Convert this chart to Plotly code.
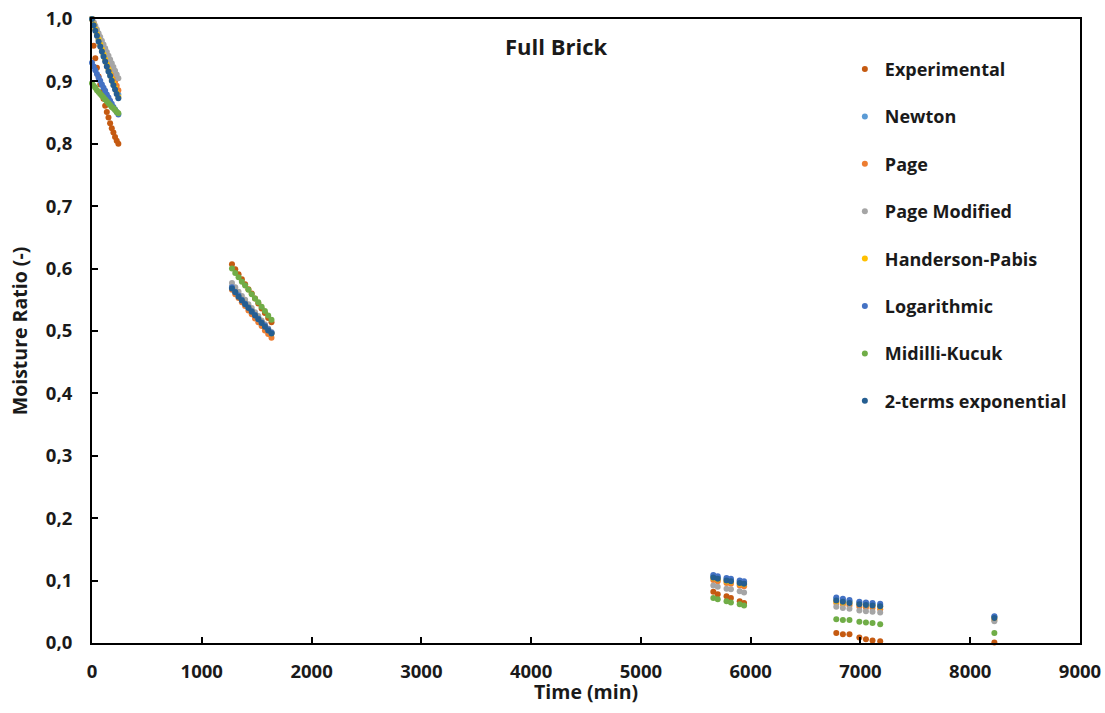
import plotly.graph_objects as go

# ---- data (time in minutes, moisture ratio) ----
time_min = [0, 15, 30, 45, 60, 75, 90, 105, 120, 135, 150, 165, 180, 195, 210, 225, 240,
            1275, 1305, 1335, 1365, 1395, 1425, 1455, 1485, 1515, 1545, 1575, 1605, 1635,
            5660, 5700, 5780, 5820, 5900, 5940,
            6780, 6840, 6900, 6990, 7050, 7110, 7180,
            8220]

experimental = [1.000, 0.957, 0.937, 0.922, 0.908, 0.895, 0.883, 0.872, 0.861, 0.851, 0.842, 0.833, 0.825, 0.818, 0.811, 0.805, 0.800,
                0.607, 0.599, 0.591, 0.583, 0.575, 0.567, 0.560, 0.552, 0.544, 0.536, 0.529, 0.521, 0.514,
                0.082, 0.078, 0.075, 0.072, 0.067, 0.064,
                0.016, 0.014, 0.014, 0.009, 0.006, 0.004, 0.003,
                0.001]
newton = [1.000, 0.992, 0.984, 0.976, 0.968, 0.960, 0.952, 0.944, 0.937, 0.929, 0.922, 0.914, 0.907, 0.900, 0.893, 0.886, 0.879,
          0.571, 0.564, 0.558, 0.551, 0.545, 0.539, 0.533, 0.527, 0.521, 0.515, 0.509, 0.503, 0.498,
          0.107, 0.105, 0.102, 0.101, 0.098, 0.097,
          0.071, 0.069, 0.067, 0.065, 0.064, 0.063, 0.061,
          0.042]
page = [1.000, 0.994, 0.987, 0.980, 0.973, 0.966, 0.958, 0.951, 0.944, 0.936, 0.929, 0.922, 0.915, 0.907, 0.900, 0.893, 0.886,
        0.566, 0.559, 0.553, 0.546, 0.540, 0.533, 0.527, 0.520, 0.514, 0.508, 0.501, 0.495, 0.489,
        0.101, 0.099, 0.096, 0.095, 0.092, 0.091,
        0.064, 0.062, 0.060, 0.058, 0.057, 0.056, 0.054,
        0.037]
page_modified = [1.000, 0.995, 0.989, 0.983, 0.977, 0.971, 0.965, 0.959, 0.953, 0.947, 0.941, 0.935, 0.929, 0.923, 0.917, 0.911, 0.905,
                 0.577, 0.570, 0.563, 0.556, 0.550, 0.543, 0.537, 0.530, 0.524, 0.517, 0.511, 0.504, 0.498,
                 0.092, 0.090, 0.087, 0.086, 0.083, 0.081,
                 0.058, 0.056, 0.055, 0.052, 0.051, 0.050, 0.049,
                 0.035]
handerson_pabis = [1.000, 0.991, 0.983, 0.975, 0.967, 0.959, 0.951, 0.943, 0.935, 0.927, 0.919, 0.912, 0.904, 0.897, 0.890, 0.882, 0.875,
                   0.569, 0.563, 0.556, 0.550, 0.544, 0.538, 0.532, 0.526, 0.520, 0.514, 0.508, 0.502, 0.496,
                   0.104, 0.102, 0.099, 0.098, 0.095, 0.094,
                   0.067, 0.065, 0.064, 0.062, 0.061, 0.060, 0.058,
                   0.040]
logarithmic = [0.930, 0.924, 0.918, 0.912, 0.906, 0.901, 0.895, 0.890, 0.885, 0.879, 0.874, 0.869, 0.864, 0.859, 0.855, 0.851, 0.847,
               0.570, 0.563, 0.557, 0.550, 0.544, 0.538, 0.532, 0.526, 0.520, 0.514, 0.509, 0.503, 0.497,
               0.109, 0.107, 0.104, 0.103, 0.100, 0.099,
               0.073, 0.071, 0.069, 0.066, 0.065, 0.064, 0.063,
               0.043]
midilli_kucuk = [0.897, 0.893, 0.890, 0.886, 0.883, 0.880, 0.877, 0.874, 0.871, 0.868, 0.865, 0.862, 0.859, 0.857, 0.854, 0.851, 0.849,
                 0.600, 0.593, 0.586, 0.579, 0.573, 0.566, 0.559, 0.552, 0.546, 0.539, 0.532, 0.525, 0.518,
                 0.072, 0.070, 0.067, 0.065, 0.062, 0.060,
                 0.038, 0.037, 0.037, 0.034, 0.033, 0.032, 0.030,
                 0.016]
two_terms = [1.000, 0.990, 0.981, 0.973, 0.964, 0.956, 0.948, 0.940, 0.932, 0.924, 0.916, 0.909, 0.901, 0.894, 0.887, 0.880, 0.873,
             0.568, 0.562, 0.555, 0.549, 0.543, 0.537, 0.531, 0.525, 0.519, 0.513, 0.507, 0.501, 0.496,
             0.105, 0.103, 0.100, 0.099, 0.096, 0.095,
             0.068, 0.066, 0.064, 0.062, 0.061, 0.060, 0.059,
             0.040]

series_names = ["Experimental", "Newton", "Page", "Page Modified", "Handerson-Pabis",
                "Logarithmic", "Midilli-Kucuk", "2-terms exponential"]
series_values = [experimental, newton, page, page_modified, handerson_pabis,
                 logarithmic, midilli_kucuk, two_terms]
series_colors = ["#C55A11", "#5B9BD5", "#ED7D31", "#A5A5A5", "#FFC000",
                 "#4472C4", "#70AD47", "#255E91"]

FONT = "Open Sans"
TXT = "#1a1a1a"

fig = go.Figure()
for i, (name, vals, col) in enumerate(zip(series_names, series_values, series_colors)):
    fig.add_trace(go.Scatter(
        x=time_min, y=vals, name=name, mode="markers",
        marker=dict(size=6, color=col),
        cliponaxis=False, legendgroup=f"g{i}",
    ))

fig.update_layout(
    width=1105, height=713,
    margin=dict(l=92, r=25, t=19, b=70, autoexpand=False),
    paper_bgcolor="white", plot_bgcolor="white",
    separators=", ",
    font=dict(family=FONT, size=18, color=TXT, weight="bold"),
    showlegend=True,
    legend=dict(x=0.762, y=0.949, xanchor="left", yanchor="top",
                font=dict(family=FONT, size=18, color=TXT, weight="bold"),
                tracegroupgap=21, bgcolor="rgba(0,0,0,0)", itemsizing="trace"),
    annotations=[
        dict(text="Full Brick", x=0.47, y=0.957, xref="paper", yref="paper",
             xanchor="center", yanchor="middle", showarrow=False,
             font=dict(family=FONT, size=22, color=TXT, weight="bold")),
        dict(text="Time (min)", x=0.5, y=-0.0785, xref="paper", yref="paper",
             xanchor="center", yanchor="middle", showarrow=False,
             font=dict(family=FONT, size=19.5, color=TXT, weight="bold")),
    ],
)
fig.update_xaxes(range=[0, 9000], dtick=1000, showgrid=False, zeroline=False,
                 showline=True, linecolor="black", linewidth=2, mirror=True,
                 ticks="inside", ticklen=6, tickwidth=2, tickcolor="black",
                 tickfont=dict(family=FONT, size=18.5, color=TXT, weight="bold"),
                 ticklabelstandoff=11, automargin=False)
fig.update_yaxes(range=[0, 1.0], dtick=0.1, tickformat=".1f", showgrid=False, zeroline=False,
                 showline=True, linecolor="black", linewidth=2, mirror=True,
                 ticks="inside", ticklen=6, tickwidth=2, tickcolor="black",
                 tickfont=dict(family=FONT, size=18.5, color=TXT, weight="bold"),
                 ticklabelstandoff=14, automargin=False,
                 title=dict(text="Moisture Ratio (-)", standoff=13,
                            font=dict(family=FONT, size=19.5, color=TXT, weight="bold")))

fig.write_html("out.html")
